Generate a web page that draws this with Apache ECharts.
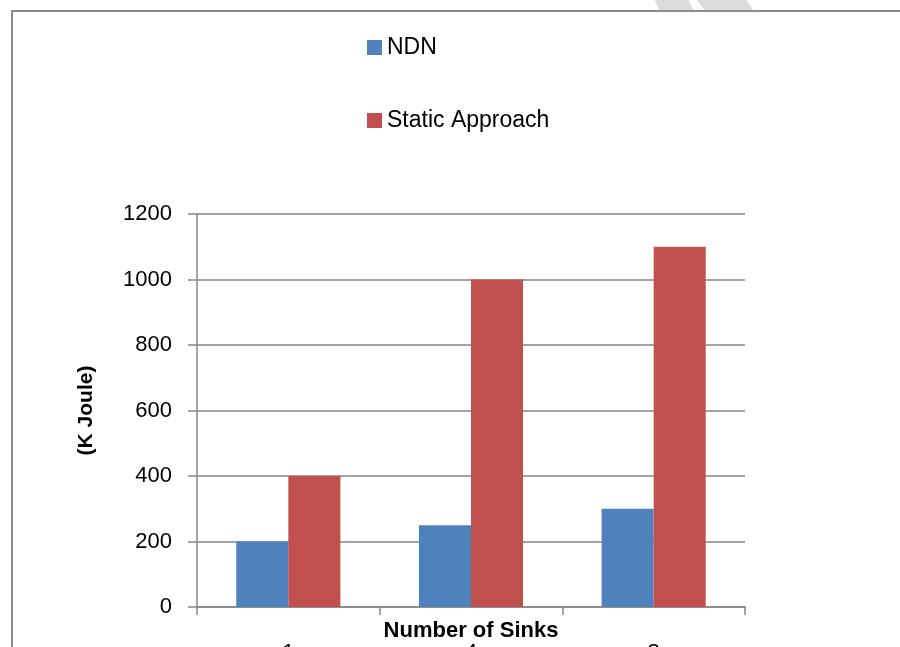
<!DOCTYPE html>
<html>
<head>
<meta charset="utf-8">
<script src="https://cdn.jsdelivr.net/npm/echarts@6/dist/echarts.min.js"></script>
<style>
  html, body { margin: 0; padding: 0; background: #fff; }
  #chart { width: 900px; height: 647px; }
</style>
</head>
<body>
<div id="chart"></div>
<script>
// Energy consumption per number of sinks
const categories = ['1', '4', '8'];
const ndnValues = [200, 250, 300];
const staticValues = [400, 1000, 1100];
const seriesNames = ['NDN', 'Static Approach'];
const yMin = 0, yMax = 1200, yStep = 200;

const FONT = '"Liberation Sans", "DejaVu Sans", sans-serif';
const AXIS_GREY = '#868686';

const chart = echarts.init(document.getElementById('chart'), null, { renderer: 'canvas' });

chart.setOption({
  animation: false,
  backgroundColor: '#ffffff',
  textStyle: { fontFamily: FONT, color: '#000' },
  graphic: [
    // faint strokes clipped at the top edge
    { type: 'polygon', z: 0, shape: { points: [[654, -1], [688, -1], [694, 11], [660, 11]] }, style: { fill: '#dcdcdc' } },
    { type: 'polygon', z: 0, shape: { points: [[696, -1], [745, -1], [754, 11], [705, 11]] }, style: { fill: '#dcdcdc' } },
    // chart frame
    { type: 'rect', z: 1, shape: { x: 12, y: 11, width: 1000, height: 1000 }, style: { fill: 'none', stroke: '#8c8c8c', lineWidth: 2 } }
  ],
  legend: {
    orient: 'vertical',
    left: 362,
    top: 31,
    itemWidth: 15,
    itemHeight: 15,
    itemGap: 50,
    icon: 'rect',
    textStyle: { fontFamily: FONT, fontSize: 23, color: '#000', padding: [2, 0, 0, 0] },
    data: seriesNames
  },
  grid: { left: 197, right: 155, top: 214, bottom: 40, containLabel: false, outerBoundsMode: 'none' },
  xAxis: {
    type: 'category',
    data: categories,
    name: 'Number of Sinks',
    nameLocation: 'middle',
    nameGap: 13,
    nameMoveOverlap: false,
    nameTextStyle: { fontFamily: FONT, fontSize: 22, fontWeight: 'bold', color: '#000' },
    axisLine: { show: true, lineStyle: { color: AXIS_GREY, width: 1.5 } },
    axisTick: { show: true, length: 8, lineStyle: { color: AXIS_GREY, width: 1.5 } },
    axisLabel: { fontFamily: FONT, fontSize: 22, color: '#000', margin: 35 }
  },
  yAxis: {
    type: 'value',
    min: yMin,
    max: yMax,
    interval: yStep,
    name: '(K Joule)',
    nameLocation: 'middle',
    nameGap: 100,
    nameTextStyle: { fontFamily: FONT, fontSize: 21, fontWeight: 'bold', color: '#000' },
    axisLine: { show: true, lineStyle: { color: AXIS_GREY, width: 1.5 } },
    axisTick: { show: true, length: 9, lineStyle: { color: AXIS_GREY, width: 1.5 } },
    axisLabel: { fontFamily: FONT, fontSize: 22, color: '#000', margin: 25, formatter: v => String(v) },
    splitLine: { show: true, lineStyle: { color: AXIS_GREY, width: 1.5 } }
  },
  series: [
    {
      name: seriesNames[0],
      type: 'bar',
      data: ndnValues,
      barGap: '0%',
      barCategoryGap: '43%',
      itemStyle: { color: '#4F81BD' }
    },
    {
      name: seriesNames[1],
      type: 'bar',
      data: staticValues,
      barGap: '0%',
      barCategoryGap: '43%',
      itemStyle: { color: '#C0504D' }
    }
  ]
});
</script>
</body>
</html>
